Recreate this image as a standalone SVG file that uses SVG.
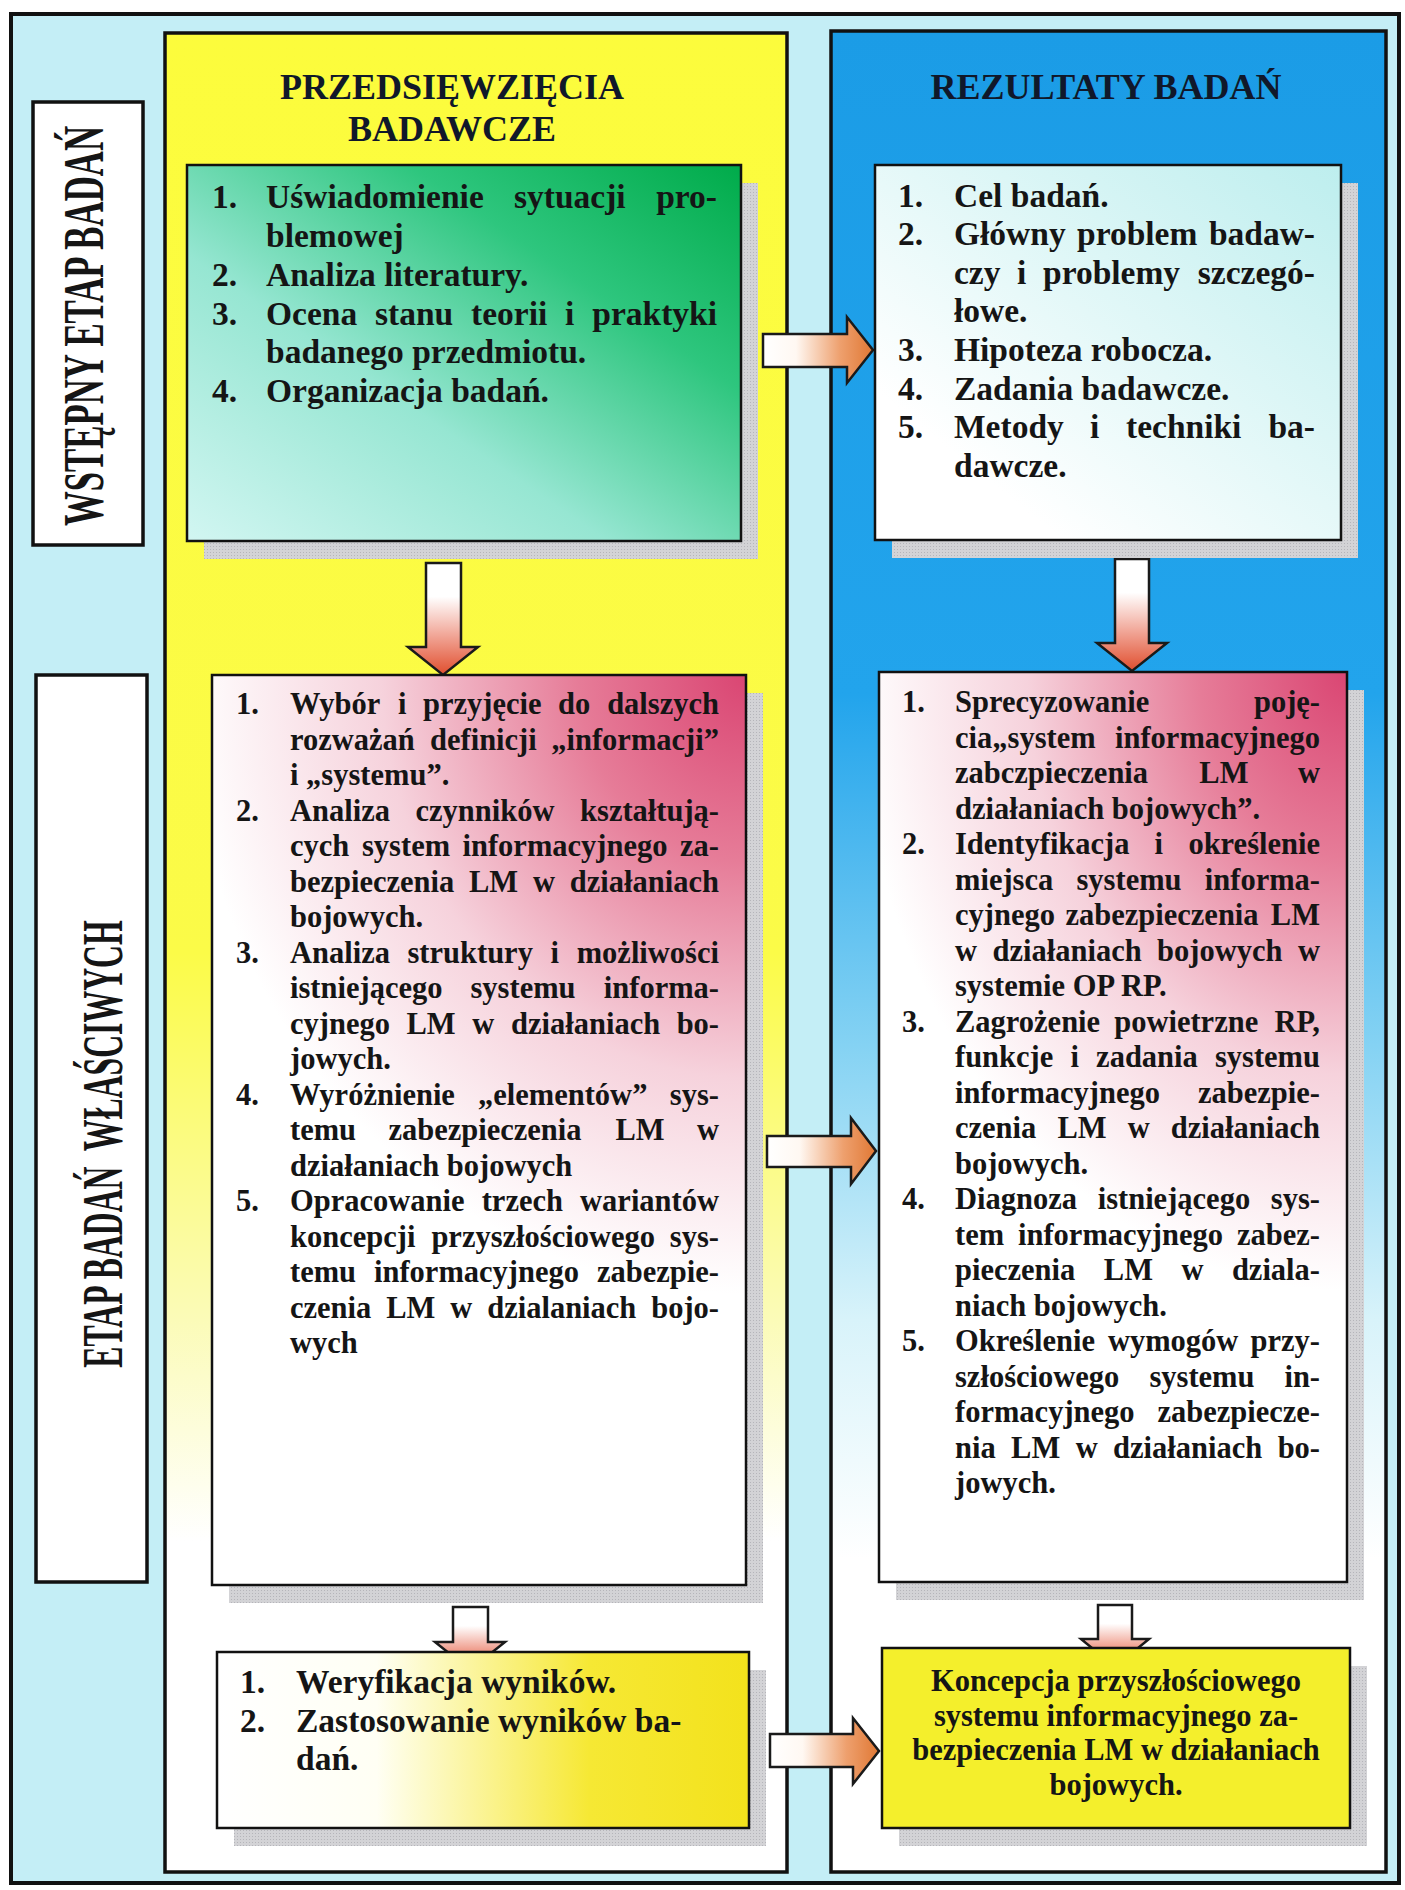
<svg xmlns="http://www.w3.org/2000/svg" width="1405" height="1890" viewBox="0 0 1405 1890">
<defs>
<style>
.f{font-family:"Liberation Serif","Times New Roman",serif;font-weight:bold;fill:#151515}
.h{font-size:36px;text-anchor:middle;fill:#10182a}
.L{font-size:33.5px}
.S{font-size:30.5px}
.e{text-anchor:end}
.m{text-anchor:middle}
.lab{font-size:58px;text-anchor:middle}
.box{stroke:#111;stroke-width:2.5}
.col{stroke:#111;stroke-width:3.5}
.sh{fill:url(#dots)}
.arr{stroke:#1a1a1a;stroke-width:2.5;stroke-linejoin:miter}
</style>
<pattern id="dots" width="3" height="3" patternUnits="userSpaceOnUse">
<rect width="3" height="3" fill="#d3d3d6"/>
<rect width="1" height="1" fill="#b5b5ba"/>
</pattern>
<linearGradient id="gYellowCol" x1="0" y1="0" x2="0" y2="1">
<stop offset="0" stop-color="#fcfc3c"/>
<stop offset="0.5" stop-color="#fbfb48"/>
<stop offset="0.7" stop-color="#fbfbb8"/>
<stop offset="0.82" stop-color="#ffffff"/>
<stop offset="1" stop-color="#ffffff"/>
</linearGradient>
<linearGradient id="gBlueCol" x1="0" y1="0" x2="0" y2="1">
<stop offset="0" stop-color="#1b9ce6"/>
<stop offset="0.36" stop-color="#22a4ec"/>
<stop offset="0.55" stop-color="#84d2f3"/>
<stop offset="0.7" stop-color="#d8f3fa"/>
<stop offset="0.83" stop-color="#ffffff"/>
<stop offset="1" stop-color="#ffffff"/>
</linearGradient>
<linearGradient id="gGreen" x1="1" y1="0" x2="0" y2="1">
<stop offset="0" stop-color="#00ab4a"/>
<stop offset="0.3" stop-color="#2ec67e"/>
<stop offset="0.62" stop-color="#96e6d2"/>
<stop offset="1" stop-color="#d2f6f2"/>
</linearGradient>
<linearGradient id="gCyanWhite" x1="1" y1="0" x2="0.2" y2="0.8">
<stop offset="0" stop-color="#bdeeee"/>
<stop offset="1" stop-color="#ffffff"/>
</linearGradient>
<radialGradient id="gPink" cx="1" cy="0" r="1" gradientTransform="translate(1,0) scale(1.05,0.68) translate(-1,0)">
<stop offset="0" stop-color="#da4673"/>
<stop offset="0.3" stop-color="#e67c98"/>
<stop offset="0.65" stop-color="#f6d2dc"/>
<stop offset="1" stop-color="#ffffff"/>
</radialGradient>
<linearGradient id="gYellowBox" x1="0" y1="0" x2="1" y2="0">
<stop offset="0" stop-color="#ffffff"/>
<stop offset="0.3" stop-color="#fffff4"/>
<stop offset="0.7" stop-color="#f6e834"/>
<stop offset="1" stop-color="#f3e21c"/>
</linearGradient>
<linearGradient id="gArrowDown" x1="0" y1="0" x2="0" y2="1">
<stop offset="0" stop-color="#ffffff"/>
<stop offset="0.3" stop-color="#ffffff"/>
<stop offset="0.65" stop-color="#f1a596"/>
<stop offset="1" stop-color="#e04e2e"/>
</linearGradient>
<linearGradient id="gArrowRight" x1="0" y1="0" x2="1" y2="0">
<stop offset="0" stop-color="#ffffff"/>
<stop offset="0.3" stop-color="#fff8f2"/>
<stop offset="0.7" stop-color="#eea06e"/>
<stop offset="1" stop-color="#e07834"/>
</linearGradient>
</defs>

<g id="frame">
<rect x="11" y="14" width="1388" height="1869" fill="#c4eef6" stroke="#111" stroke-width="4"/>
</g>

<g id="column-przedsiewziecia">
<rect class="col" x="165" y="33" width="622" height="1839" fill="url(#gYellowCol)"/>
<text class="f h" x="452" y="99">PRZEDSIĘWZIĘCIA</text>
<text class="f h" x="452" y="141">BADAWCZE</text>
</g>

<g id="column-rezultaty">
<rect class="col" x="831" y="31" width="555" height="1841" fill="url(#gBlueCol)"/>
<text class="f h" x="1106" y="99">REZULTATY BADAŃ</text>
</g>

<g id="label-wstepny">
<rect x="33" y="102" width="110" height="443" fill="#ffffff" stroke="#111" stroke-width="3.5"/>
<text class="f lab" transform="translate(103,326) rotate(-90) scale(0.6,1)">WSTĘPNY ETAP BADAŃ</text>
</g>

<g id="label-wlasciwy">
<rect x="36" y="675" width="111" height="907" fill="#ffffff" stroke="#111" stroke-width="3.5"/>
<text class="f lab" transform="translate(122,1144) rotate(-90) scale(0.547,1)">ETAP BADAŃ&#160; WŁAŚCIWYCH</text>
</g>

<g id="connectors">
<polygon class="arr" fill="url(#gArrowRight)" points="763,334 847,334 847,317 873,350 847,383 847,367 763,367"/>
<polygon class="arr" fill="url(#gArrowRight)" points="767,1136 851,1136 851,1118 876,1151 851,1184 851,1167 767,1167"/>
<polygon class="arr" fill="url(#gArrowRight)" points="770,1734 853,1734 853,1718 879,1751 853,1784 853,1767 770,1767"/>
<polygon class="arr" fill="url(#gArrowDown)" points="426,563 461,563 461,647 478,647 443,675 408,647 426,647"/>
<polygon class="arr" fill="url(#gArrowDown)" points="1115,559 1149,559 1149,643 1167,643 1132,671 1097,643 1115,643"/>
<polygon class="arr" fill="url(#gArrowDown)" points="453,1607 488,1607 488,1642 505,1642 470,1670 435,1642 453,1642"/>
<polygon class="arr" fill="url(#gArrowDown)" points="1098,1605 1132,1605 1132,1639 1149,1639 1115,1667 1081,1639 1098,1639"/>
</g>

<g id="node-wstepne-przedsiewziecia">
<rect class="sh" x="204" y="183" width="554" height="376"/>
<rect class="box" x="187" y="165" width="554" height="376" fill="url(#gGreen)"/>
<text class="f L" x="212" y="208">1.</text>
<text class="f L" y="208"><tspan x="266">Uświadomienie</tspan><tspan x="514">sytuacji</tspan><tspan x="717" class="e">pro-</tspan></text>
<text class="f L" x="266" y="247">blemowej</text>
<text class="f L" x="212" y="286">2.</text>
<text class="f L" x="266" y="286">Analiza literatury.</text>
<text class="f L" x="212" y="325">3.</text>
<text class="f L" y="325"><tspan x="266">Ocena</tspan><tspan x="375">stanu</tspan><tspan x="471">teorii</tspan><tspan x="565">i</tspan><tspan x="717" class="e">praktyki</tspan></text>
<text class="f L" x="266" y="363">badanego przedmiotu.</text>
<text class="f L" x="212" y="402">4.</text>
<text class="f L" x="266" y="402">Organizacja badań.</text>
</g>

<g id="node-wstepne-rezultaty">
<rect class="sh" x="892" y="183" width="466" height="375"/>
<rect class="box" x="875" y="165" width="466" height="375" fill="url(#gCyanWhite)"/>
<text class="f L" x="898" y="207">1.</text>
<text class="f L" x="954" y="207">Cel badań.</text>
<text class="f L" x="898" y="245">2.</text>
<text class="f L" y="245"><tspan x="954">Główny</tspan><tspan x="1077">problem</tspan><tspan x="1315" class="e">badaw-</tspan></text>
<text class="f L" y="284"><tspan x="954">czy</tspan><tspan x="1017">i</tspan><tspan x="1043">problemy</tspan><tspan x="1315" class="e">szczegó-</tspan></text>
<text class="f L" x="954" y="322">łowe.</text>
<text class="f L" x="898" y="361">3.</text>
<text class="f L" x="954" y="361">Hipoteza robocza.</text>
<text class="f L" x="898" y="400">4.</text>
<text class="f L" x="954" y="400">Zadania badawcze.</text>
<text class="f L" x="898" y="438">5.</text>
<text class="f L" y="438"><tspan x="954">Metody</tspan><tspan x="1090">i</tspan><tspan x="1126">techniki</tspan><tspan x="1315" class="e">ba-</tspan></text>
<text class="f L" x="954" y="477">dawcze.</text>
</g>

<g id="node-wlasciwe-przedsiewziecia">
<rect class="sh" x="229" y="693" width="534" height="910"/>
<rect class="box" x="212" y="675" width="534" height="910" fill="url(#gPink)"/>
<text class="f S" x="236" y="714">1.</text>
<text class="f S" y="714"><tspan x="290">Wybór</tspan><tspan x="398">i</tspan><tspan x="423">przyjęcie</tspan><tspan x="558">do</tspan><tspan x="719" class="e">dalszych</tspan></text>
<text class="f S" y="749.5"><tspan x="290">rozważań</tspan><tspan x="430">definicji</tspan><tspan x="719" class="e">„informacji”</tspan></text>
<text class="f S" x="290" y="785">i „systemu”.</text>
<text class="f S" x="236" y="820.5">2.</text>
<text class="f S" y="820.5"><tspan x="290">Analiza</tspan><tspan x="415.5">czynników</tspan><tspan x="719" class="e">kształtują-</tspan></text>
<text class="f S" y="856"><tspan x="290">cych</tspan><tspan x="362">system</tspan><tspan x="462.5">informacyjnego</tspan><tspan x="719" class="e">za-</tspan></text>
<text class="f S" y="891.5"><tspan x="290">bezpieczenia</tspan><tspan x="469">LM</tspan><tspan x="533">w</tspan><tspan x="719" class="e">działaniach</tspan></text>
<text class="f S" x="290" y="927">bojowych.</text>
<text class="f S" x="236" y="962.5">3.</text>
<text class="f S" y="962.5"><tspan x="290">Analiza</tspan><tspan x="407.5">struktury</tspan><tspan x="550.5">i</tspan><tspan x="719" class="e">możliwości</tspan></text>
<text class="f S" y="998"><tspan x="290">istniejącego</tspan><tspan x="470.5">systemu</tspan><tspan x="719" class="e">informa-</tspan></text>
<text class="f S" y="1033.5"><tspan x="290">cyjnego</tspan><tspan x="406.5">LM</tspan><tspan x="472.3">w</tspan><tspan x="511">działaniach</tspan><tspan x="719" class="e">bo-</tspan></text>
<text class="f S" x="290" y="1069">jowych.</text>
<text class="f S" x="236" y="1104.5">4.</text>
<text class="f S" y="1104.5"><tspan x="290">Wyróżnienie</tspan><tspan x="478">„elementów”</tspan><tspan x="719" class="e">sys-</tspan></text>
<text class="f S" y="1140"><tspan x="290">temu</tspan><tspan x="388.4">zabezpieczenia</tspan><tspan x="615.5">LM</tspan><tspan x="719" class="e">w</tspan></text>
<text class="f S" x="290" y="1175.5">działaniach bojowych</text>
<text class="f S" x="236" y="1211">5.</text>
<text class="f S" y="1211"><tspan x="290">Opracowanie</tspan><tspan x="481.7">trzech</tspan><tspan x="719" class="e">wariantów</tspan></text>
<text class="f S" y="1246.5"><tspan x="290">koncepcji</tspan><tspan x="431.4">przyszłościowego</tspan><tspan x="719" class="e">sys-</tspan></text>
<text class="f S" y="1282"><tspan x="290">temu</tspan><tspan x="374">informacyjnego</tspan><tspan x="719" class="e">zabezpie-</tspan></text>
<text class="f S" y="1317.5"><tspan x="290">czenia</tspan><tspan x="386.2">LM</tspan><tspan x="450.3">w</tspan><tspan x="487.2">dzialaniach</tspan><tspan x="719" class="e">bojo-</tspan></text>
<text class="f S" x="290" y="1353">wych</text>
</g>

<g id="node-wlasciwe-rezultaty">
<rect class="sh" x="896" y="690" width="468" height="910"/>
<rect class="box" x="879" y="672" width="468" height="910" fill="url(#gPink)"/>
<text class="f S" x="902" y="712">1.</text>
<text class="f S" y="712"><tspan x="955">Sprecyzowanie</tspan><tspan x="1320" class="e">poję-</tspan></text>
<text class="f S" y="747.5"><tspan x="955">cia„system</tspan><tspan x="1320" class="e">informacyjnego</tspan></text>
<text class="f S" y="783"><tspan x="955">zabczpieczenia</tspan><tspan x="1199.3">LM</tspan><tspan x="1320" class="e">w</tspan></text>
<text class="f S" x="955" y="818.5">działaniach bojowych”.</text>
<text class="f S" x="902" y="854">2.</text>
<text class="f S" y="854"><tspan x="955">Identyfikacja</tspan><tspan x="1154.4">i</tspan><tspan x="1320" class="e">określenie</tspan></text>
<text class="f S" y="889.5"><tspan x="955">miejsca</tspan><tspan x="1076.5">systemu</tspan><tspan x="1320" class="e">informa-</tspan></text>
<text class="f S" y="925"><tspan x="955">cyjnego</tspan><tspan x="1065.5">zabezpieczenia</tspan><tspan x="1320" class="e">LM</tspan></text>
<text class="f S" y="960.5"><tspan x="955">w</tspan><tspan x="992.5">działaniach</tspan><tspan x="1157.1">bojowych</tspan><tspan x="1320" class="e">w</tspan></text>
<text class="f S" x="955" y="996">systemie OP RP.</text>
<text class="f S" x="902" y="1031.5">3.</text>
<text class="f S" y="1031.5"><tspan x="955">Zagrożenie</tspan><tspan x="1114.2">powietrzne</tspan><tspan x="1320" class="e">RP,</tspan></text>
<text class="f S" y="1067"><tspan x="955">funkcje</tspan><tspan x="1070.4">i</tspan><tspan x="1096.1">zadania</tspan><tspan x="1320" class="e">systemu</tspan></text>
<text class="f S" y="1102.5"><tspan x="955">informacyjnego</tspan><tspan x="1320" class="e">zabezpie-</tspan></text>
<text class="f S" y="1138"><tspan x="955">czenia</tspan><tspan x="1057.4">LM</tspan><tspan x="1127.7">w</tspan><tspan x="1320" class="e">działaniach</tspan></text>
<text class="f S" x="955" y="1173.5">bojowych.</text>
<text class="f S" x="902" y="1209">4.</text>
<text class="f S" y="1209"><tspan x="955">Diagnoza</tspan><tspan x="1097.7">istniejącego</tspan><tspan x="1320" class="e">sys-</tspan></text>
<text class="f S" y="1244.5"><tspan x="955">tem</tspan><tspan x="1018">informacyjnego</tspan><tspan x="1320" class="e">zabez-</tspan></text>
<text class="f S" y="1280"><tspan x="955">pieczenia</tspan><tspan x="1103.8">LM</tspan><tspan x="1181.4">w</tspan><tspan x="1320" class="e">dziala-</tspan></text>
<text class="f S" x="955" y="1315.5">niach bojowych.</text>
<text class="f S" x="902" y="1351">5.</text>
<text class="f S" y="1351"><tspan x="955">Określenie</tspan><tspan x="1107.9">wymogów</tspan><tspan x="1320" class="e">przy-</tspan></text>
<text class="f S" y="1386.5"><tspan x="955">szłościowego</tspan><tspan x="1149.4">systemu</tspan><tspan x="1320" class="e">in-</tspan></text>
<text class="f S" y="1422"><tspan x="955">formacyjnego</tspan><tspan x="1320" class="e">zabezpiecze-</tspan></text>
<text class="f S" y="1457.5"><tspan x="955">nia</tspan><tspan x="1011.1">LM</tspan><tspan x="1075.7">w</tspan><tspan x="1113.1">działaniach</tspan><tspan x="1320" class="e">bo-</tspan></text>
<text class="f S" x="955" y="1493">jowych.</text>
</g>

<g id="node-koncowe-przedsiewziecia">
<rect class="sh" x="234" y="1670" width="532" height="176"/>
<rect class="box" x="217" y="1652" width="532" height="176" fill="url(#gYellowBox)"/>
<text class="f L" x="240" y="1693">1.</text>
<text class="f L" x="296" y="1693">Weryfikacja wyników.</text>
<text class="f L" x="240" y="1732">2.</text>
<text class="f L" x="296" y="1732">Zastosowanie wyników ba-</text>
<text class="f L" x="296" y="1770">dań.</text>
</g>

<g id="node-koncowe-rezultaty">
<rect class="sh" x="899" y="1666" width="468" height="180"/>
<rect class="box" x="882" y="1648" width="468" height="180" fill="#f4ef2c"/>
<text class="f S m" x="1116" y="1691">Koncepcja przyszłościowego</text>
<text class="f S m" x="1116" y="1726">systemu informacyjnego za-</text>
<text class="f S m" x="1116" y="1760">bezpieczenia LM w działaniach</text>
<text class="f S m" x="1116" y="1795">bojowych.</text>
</g>
</svg>
